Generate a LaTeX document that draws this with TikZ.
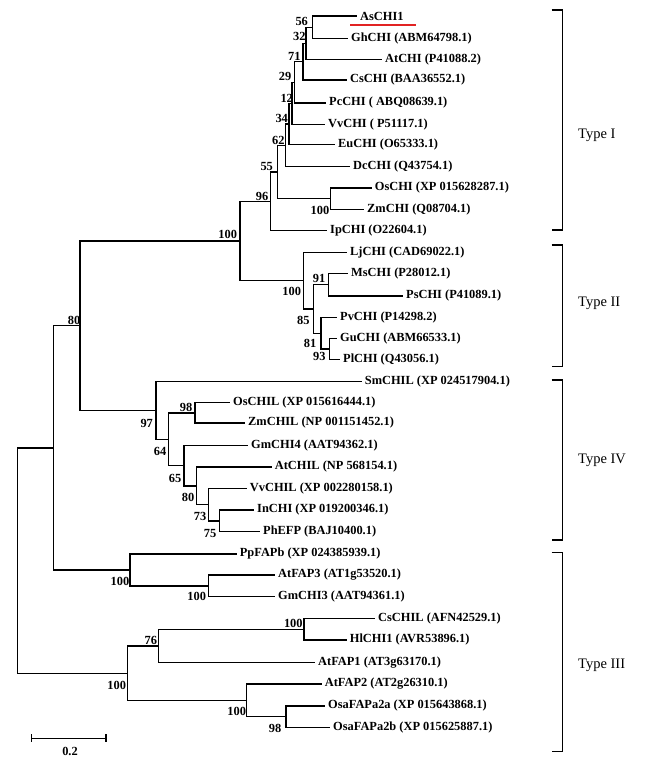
\documentclass[tikz,border=0pt]{standalone}
\usepackage{fontspec}
\setmainfont{Liberation Serif}
\definecolor{markred}{RGB}{225,35,35}
\begin{document}
\begin{tikzpicture}[x=1pt,y=-1pt,
	every node/.style={inner sep=0pt},
	leaf/.style={anchor=west,inner xsep=3pt,font=\fontsize{12.4}{14}\selectfont\bfseries},
	boot/.style={font=\fontsize{12.4}{14}\selectfont\bfseries},
	group/.style={anchor=west,font=\fontsize{14.5}{16}\selectfont},
	branch/.style={line width=1.3pt},
	bracket/.style={line width=1.1pt}]
			\useasboundingbox (0,0) rectangle (648,761);

			%type I leaves
			\node [leaf] (aschi) at (357,16) {AsCHI1};
			\node [leaf] (ghchi) at (348,38.3) {GhCHI (ABM64798.1)};
			\node [leaf] (atchi) at (382,59.3) {AtCHI (P41088.2)};
			\node [leaf] (cschi) at (347,80) {CsCHI (BAA36552.1)};
			\node [leaf] (pcchi) at (326,103) {PcCHI ( ABQ08639.1)};
			\node [leaf] (vvchi) at (325,124.5) {VvCHI ( P51117.1)};
			\node [leaf] (euchi) at (335,144.3) {EuCHI (O65333.1)};
			\node [leaf] (dcchi) at (350,166.7) {DcCHI (Q43754.1)};
			\node [leaf] (oschi) at (371.7,188) {OsCHI (XP 015628287.1)};
			\node [leaf] (zmchi) at (364,209.3) {ZmCHI (Q08704.1)};
			\node [leaf] (ipchi) at (327,230.3) {IpCHI (O22604.1)};

			%type II leaves
			\node [leaf] (ljchi) at (347,252.7) {LjCHI (CAD69022.1)};
			\node [leaf] (mschi) at (348,273.3) {MsCHI (P28012.1)};
			\node [leaf] (pschi) at (403,296) {PsCHI (P41089.1)};
			\node [leaf] (pvchi) at (337,317.3) {PvCHI (P14298.2)};
			\node [leaf] (guchi) at (337,338.3) {GuCHI (ABM66533.1)};
			\node [leaf] (plchi) at (340,359.7) {PlCHI (Q43056.1)};

			%type IV leaves
			\node [leaf] (smchil) at (361.7,381.7) {SmCHIL (XP 024517904.1)};
			\node [leaf] (oschil) at (230,402.7) {OsCHIL (XP 015616444.1)};
			\node [leaf] (zmchil) at (245,423) {ZmCHIL (NP 001151452.1)};
			\node [leaf] (gmchi4) at (248,445.7) {GmCHI4 (AAT94362.1)};
			\node [leaf] (atchil) at (271.7,467) {AtCHIL (NP 568154.1)};
			\node [leaf] (vvchil) at (246.7,488.7) {VvCHIL (XP 002280158.1)};
			\node [leaf] (inchi) at (254,510) {InCHI (XP 019200346.1)};
			\node [leaf] (phefp) at (260,531.7) {PhEFP (BAJ10400.1)};

			%type III leaves
			\node [leaf] (ppfapb) at (236.7,554) {PpFAPb (XP 024385939.1)};
			\node [leaf] (atfap3) at (275,575) {AtFAP3 (AT1g53520.1)};
			\node [leaf] (gmchi3) at (275,596.7) {GmCHI3 (AAT94361.1)};
			\node [leaf] (cschil) at (375,618.3) {CsCHIL (AFN42529.1)};
			\node [leaf] (hlchi1) at (346.7,640) {HlCHI1 (AVR53896.1)};
			\node [leaf] (atfap1) at (315,662.7) {AtFAP1 (AT3g63170.1)};
			\node [leaf] (atfap2) at (321.7,684) {AtFAP2 (AT2g26310.1)};
			\node [leaf] (osa2a) at (325,706) {OsaFAPa2a (XP 015643868.1)};
			\node [leaf] (osa2b) at (330,727.3) {OsaFAPa2b (XP 015625887.1)};

			%inner nodes
			\coordinate (n56) at (312.7,27.15);
			\coordinate (n32) at (306,43.2);
			\coordinate (n71) at (303,61.6);
			\coordinate (n29) at (294.5,82.3);
			\coordinate (n12) at (292,103.4);
			\coordinate (n34) at (289,123.9);
			\coordinate (n62) at (285.5,145.3);
			\coordinate (n100os) at (330.7,198.7);
			\coordinate (n55) at (277.7,172);
			\coordinate (n96) at (270.5,201.2);
			\coordinate (n91) at (328.3,284.7);
			\coordinate (n93) at (329.3,349);
			\coordinate (n81) at (321,333.2);
			\coordinate (n85) at (313.3,309);
			\coordinate (n100lj) at (303.3,280.8);
			\coordinate (n100a) at (240,241);
			\coordinate (n98) at (195,412.9);
			\coordinate (n75) at (219.3,520.9);
			\coordinate (n73) at (208.3,504.8);
			\coordinate (n80iv) at (196.7,485.9);
			\coordinate (n65) at (184,465.8);
			\coordinate (n64) at (168.3,439.4);
			\coordinate (n97) at (156,410.5);
			\coordinate (n80) at (80,325.8);
			\coordinate (n100gm) at (208.3,585.9);
			\coordinate (n100pp) at (130,570);
			\coordinate (nup) at (53.3,447.9);
			\coordinate (n100cs) at (304,629.2);
			\coordinate (n76) at (158.3,646);
			\coordinate (n98osa) at (286,716.7);
			\coordinate (n100fap) at (246.7,700.3);
			\coordinate (n100iii) at (127.7,673.2);
			\coordinate (root) at (17.3,560.5);

			%bootstrap values
			\node [boot] (b56) at (301.7,21.7) {56};
			\node [boot] (b32) at (299.3,36.7) {32};
			\node [boot] (b71) at (294.3,56) {71};
			\node [boot] (b29) at (285,76.7) {29};
			\node [boot] (b12) at (286.7,98.3) {12};
			\node [boot] (b34) at (281.7,118.3) {34};
			\node [boot] (b62) at (278.3,140) {62};
			\node [boot] (b55) at (266.7,166.7) {55};
			\node [boot] (b96) at (262,196.7) {96};
			\node [boot] (b100os) at (320,210) {100};
			\node [boot] (b100a) at (227.7,234.3) {100};
			\node [boot] (b100lj) at (291.7,291.7) {100};
			\node [boot] (b91) at (319,278) {91};
			\node [boot] (b85) at (303.3,320) {85};
			\node [boot] (b81) at (310,343.3) {81};
			\node [boot] (b93) at (319.3,356.7) {93};
			\node [boot] (b80) at (74,320) {80};
			\node [boot] (b97) at (146.7,423.3) {97};
			\node [boot] (b98) at (186,407.7) {98};
			\node [boot] (b64) at (160,451.7) {64};
			\node [boot] (b65) at (175,478.3) {65};
			\node [boot] (b80iv) at (188,497.3) {80};
			\node [boot] (b73) at (200,516.7) {73};
			\node [boot] (b75) at (210,533.3) {75};
			\node [boot] (b100pp) at (120,581.7) {100};
			\node [boot] (b100gm) at (196.7,596.7) {100};
			\node [boot] (b100cs) at (293.3,623.3) {100};
			\node [boot] (b76) at (150.8,640) {76};
			\node [boot] (b100iii) at (116.7,685) {100};
			\node [boot] (b100fap) at (236.7,711.7) {100};
			\node [boot] (b98osa) at (275,728.3) {98};

			%edges type I
			\draw[branch] (n56) |- (aschi.west);
			\draw[branch] (n56) |- (ghchi.west);
			\draw[branch] (n32) |- (n56);
			\draw[branch] (n32) |- (atchi.west);
			\draw[branch] (n71) |- (n32);
			\draw[branch] (n71) |- (cschi.west);
			\draw[branch] (n29) |- (n71);
			\draw[branch] (n29) |- (pcchi.west);
			\draw[branch] (n12) |- (n29);
			\draw[branch] (n12) |- (vvchi.west);
			\draw[branch] (n34) |- (n12);
			\draw[branch] (n34) |- (euchi.west);
			\draw[branch] (n62) |- (n34);
			\draw[branch] (n62) |- (dcchi.west);
			\draw[branch] (n100os) |- (oschi.west);
			\draw[branch] (n100os) |- (zmchi.west);
			\draw[branch] (n55) |- (n62);
			\draw[branch] (n55) |- (n100os);
			\draw[branch] (n96) |- (n55);
			\draw[branch] (n96) |- (ipchi.west);

			%edges type II
			\draw[branch] (n91) |- (mschi.west);
			\draw[branch] (n91) |- (pschi.west);
			\draw[branch] (n93) |- (guchi.west);
			\draw[branch] (n93) |- (plchi.west);
			\draw[branch] (n81) |- (pvchi.west);
			\draw[branch] (n81) |- (n93);
			\draw[branch] (n85) |- (n91);
			\draw[branch] (n85) |- (n81);
			\draw[branch] (n100lj) |- (ljchi.west);
			\draw[branch] (n100lj) |- (n85);
			\draw[branch] (n100a) |- (n96);
			\draw[branch] (n100a) |- (n100lj);

			%edges type IV
			\draw[branch] (n98) |- (oschil.west);
			\draw[branch] (n98) |- (zmchil.west);
			\draw[branch] (n75) |- (inchi.west);
			\draw[branch] (n75) |- (phefp.west);
			\draw[branch] (n73) |- (vvchil.west);
			\draw[branch] (n73) |- (n75);
			\draw[branch] (n80iv) |- (atchil.west);
			\draw[branch] (n80iv) |- (n73);
			\draw[branch] (n65) |- (gmchi4.west);
			\draw[branch] (n65) |- (n80iv);
			\draw[branch] (n64) |- (n98);
			\draw[branch] (n64) |- (n65);
			\draw[branch] (n97) |- (smchil.west);
			\draw[branch] (n97) |- (n64);
			\draw[branch] (n80) |- (n100a);
			\draw[branch] (n80) |- (n97);

			%edges type III
			\draw[branch] (n100gm) |- (atfap3.west);
			\draw[branch] (n100gm) |- (gmchi3.west);
			\draw[branch] (n100pp) |- (ppfapb.west);
			\draw[branch] (n100pp) |- (n100gm);
			\draw[branch] (nup) |- (n80);
			\draw[branch] (nup) |- (n100pp);
			\draw[branch] (n100cs) |- (cschil.west);
			\draw[branch] (n100cs) |- (hlchi1.west);
			\draw[branch] (n76) |- (n100cs);
			\draw[branch] (n76) |- (atfap1.west);
			\draw[branch] (n98osa) |- (osa2a.west);
			\draw[branch] (n98osa) |- (osa2b.west);
			\draw[branch] (n100fap) |- (atfap2.west);
			\draw[branch] (n100fap) |- (n98osa);
			\draw[branch] (n100iii) |- (n76);
			\draw[branch] (n100iii) |- (n100fap);
			\draw[branch] (root) |- (nup);
			\draw[branch] (root) |- (n100iii);

			%mark under the new gene
			\draw[markred,line width=2pt] (350,24.8) -- (415.7,24.8);

			%scale bar
			\coordinate (sbl) at (31.7,738.3);
			\coordinate (sbr) at (106,738.3);
			\draw[branch] (sbl) -- (sbr);
			\draw[branch] ([yshift=4pt]sbl) -- ([yshift=-4pt]sbl);
			\draw[branch] ([yshift=4pt]sbr) -- ([yshift=-4pt]sbr);
			\node [boot] (sbtext) at (70,751) {0.2};

			%groups
			\draw[bracket] (551.7,10) -- (562.7,10) -- (562.7,230) -- (551.7,230);
			\draw[bracket] (551.7,245) -- (562.7,245) -- (562.7,366.7) -- (551.7,366.7);
			\draw[bracket] (551.7,380) -- (562.7,380) -- (562.7,540) -- (551.7,540);
			\draw[bracket] (551.7,552.7) -- (562.7,552.7) -- (562.7,751.7) -- (551.7,751.7);
			\node [group] (t1) at (578,135) {Type I};
			\node [group] (t2) at (578,303) {Type II};
			\node [group] (t4) at (578,460) {Type IV};
			\node [group] (t3) at (578,665) {Type III};
		\end{tikzpicture}
\end{document}
